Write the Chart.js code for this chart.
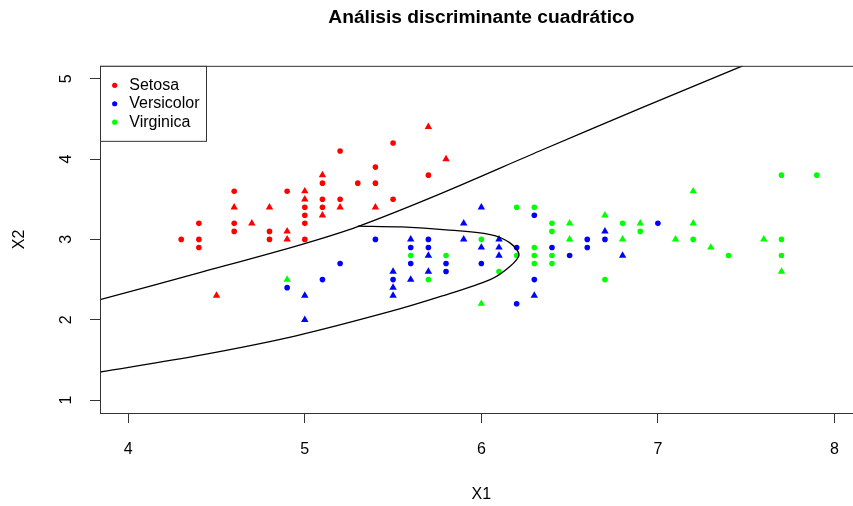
<!DOCTYPE html>
<html>
<head>
<meta charset="utf-8">
<script src="https://cdn.jsdelivr.net/npm/chart.js@4"></script>
<style>
html, body { margin: 0; background: #fff; overflow: hidden; }
canvas { display: block; }
</style>
</head>
<body>
<canvas id="chartCanvas" width="867" height="506"></canvas>
<script>

const xTicks = [4, 5, 6, 7, 8];
const yTicks = [1, 2, 3, 4, 5];
const xMin = 3.84, xMax = 8.16;
const yMin = 0.84, yMax = 5.16;

const classNames = ["Setosa", "Versicolor", "Virginica"];
const classColors = ["#FF0000", "#0000FF", "#00FF00"];

// circles
const setosaTrain = [[4.3,3.0],[4.4,3.2],[4.4,3.0],[4.4,2.9],[4.6,3.6],[4.6,3.2],[4.6,3.1],[4.8,3.1],[4.8,3.0],[4.9,3.6],[5.0,3.4],[5.0,3.3],[5.0,3.2],[5.0,3.0],[5.1,3.7],[5.1,3.5],[5.1,3.4],[5.2,4.1],[5.2,3.5],[5.3,3.7],[5.4,3.9],[5.4,3.7],[5.5,4.2],[5.5,3.5],[5.7,3.8]];
const versicolorTrain = [[4.9,2.4],[5.1,2.5],[5.2,2.7],[5.4,3.0],[5.5,2.5],[5.6,2.9],[5.6,2.7],[5.7,3.0],[5.7,2.9],[5.8,2.7],[5.8,2.6],[6.0,2.7],[6.2,2.9],[6.2,2.2],[6.3,3.3],[6.3,2.5],[6.4,2.9],[6.5,2.8],[6.6,3.0],[6.6,2.9],[6.7,3.0],[7.0,3.2]];
const virginicaTrain = [[5.6,2.8],[5.7,2.5],[5.8,2.8],[6.0,3.0],[6.1,2.6],[6.2,3.4],[6.2,2.8],[6.3,3.4],[6.3,2.9],[6.3,2.8],[6.3,2.7],[6.4,3.2],[6.4,3.1],[6.4,2.8],[6.4,2.7],[6.7,2.5],[6.8,3.2],[6.9,3.1],[7.2,3.0],[7.4,2.8],[7.7,3.8],[7.9,3.8],[7.7,3.0],[7.7,2.8]];

// triangles
const setosaTest = [[4.5,2.3],[4.6,3.4],[4.7,3.2],[4.8,3.4],[4.9,3.1],[4.9,3.0],[5.0,3.6],[5.0,3.5],[5.1,3.8],[5.1,3.3],[5.2,3.4],[5.4,3.4],[5.7,4.4],[5.8,4.0]];
const versicolorTest = [[5.0,2.3],[5.0,2.0],[5.5,2.6],[5.5,2.4],[5.5,2.3],[5.6,3.0],[5.6,2.5],[5.7,2.8],[5.7,2.6],[5.9,3.2],[5.9,3.0],[6.0,3.4],[6.0,2.9],[6.1,3.0],[6.1,2.9],[6.1,2.8],[6.3,2.3],[6.7,3.1],[6.8,2.8]];
const virginicaTest = [[4.9,2.5],[6.0,2.2],[6.5,3.2],[6.5,3.0],[6.7,3.3],[6.8,3.0],[6.9,3.2],[7.1,3.0],[7.2,3.6],[7.2,3.2],[7.3,2.9],[7.6,3.0],[7.7,2.6]];

// decision boundaries
const boundarySetosa = [[3.84,2.25],[4.41,2.59],[4.97,2.93],[5.30,3.16],[5.77,3.57],[6.33,4.10],[6.90,4.63],[7.48,5.16]];
const boundaryVersVirg = [[5.30,3.165],[5.55,3.155],[5.80,3.12],[6.05,3.06],[6.16,2.96],[6.213,2.81],[6.16,2.66],[6.05,2.50],[5.77,2.29],[5.48,2.10],[4.95,1.80],[4.41,1.56],[3.84,1.35]];

const fontFamily = "'Liberation Sans', Arial, Helvetica, sans-serif";

function toPoints(arr) {
    return arr.map(p => ({ x: p[0], y: p[1] }));
}

function pointSet(arr, color, shape) {
    return {
        data: toPoints(arr),
        pointStyle: shape,
        pointRadius: shape === "triangle" ? 4.3 : 2.8,
        pointBorderWidth: 0,
        backgroundColor: color,
        borderColor: color,
        showLine: false
    };
}

function lineSet(arr) {
    return {
        data: toPoints(arr),
        showLine: true,
        pointRadius: 0,
        borderColor: "#000",
        borderWidth: 1.3,
        tension: 0.3,
        fill: false
    };
}

const rAxes = {
    id: "rAxes",
    afterDraw(chart) {
        const c = chart.ctx;
        const a = chart.chartArea;
        const sx = chart.scales.x;
        const sy = chart.scales.y;
        c.save();

        c.strokeStyle = "#333";
        c.lineWidth = 1;
        c.strokeRect(a.left + 0.5, a.top + 0.5, a.right - a.left, a.bottom - a.top);

        c.fillStyle = "#000";
        c.font = "16px " + fontFamily;
        c.textAlign = "center";
        c.textBaseline = "middle";
        xTicks.forEach(v => {
            c.fillText(String(v), sx.getPixelForValue(v), a.bottom + 37);
        });
        yTicks.forEach(v => {
            c.save();
            c.translate(a.left - 33.5, sy.getPixelForValue(v));
            c.rotate(-Math.PI / 2);
            c.fillText(String(v), 0, 0);
            c.restore();
        });

        // legend
        const lx = a.left + 0.5, ly = a.top + 0.5;
        c.fillStyle = "#fff";
        c.fillRect(lx, ly, 106, 75);
        c.strokeStyle = "#333";
        c.strokeRect(lx, ly, 106, 75);
        c.textAlign = "left";
        classNames.forEach((name, i) => {
            const y = ly + 19 + i * 18.4;
            c.fillStyle = classColors[i];
            c.beginPath();
            c.arc(lx + 14.2, y, 2.6, 0, Math.PI * 2);
            c.fill();
            c.fillStyle = "#000";
            c.fillText(name, lx + 28.8, y);
        });
        c.restore();
    }
};

const ctx = document.getElementById("chartCanvas");

new Chart(ctx, {
    type: "scatter",
    data: {
        datasets: [
            lineSet(boundarySetosa),
            lineSet(boundaryVersVirg),
            pointSet(setosaTest, classColors[0], "triangle"),
            pointSet(versicolorTest, classColors[1], "triangle"),
            pointSet(virginicaTest, classColors[2], "triangle"),
            pointSet(setosaTrain, classColors[0], "circle"),
            pointSet(versicolorTrain, classColors[1], "circle"),
            pointSet(virginicaTrain, classColors[2], "circle")
        ]
    },
    options: {
        responsive: false,
        animation: false,
        layout: { padding: 0 },
        plugins: {
            legend: { display: false },
            tooltip: { enabled: false },
            title: {
                display: true,
                fullSize: false,
                text: "Análisis discriminante cuadrático",
                color: "#000",
                font: { family: fontFamily, size: 19.2, weight: "bold" },
                padding: { top: 6.5, bottom: 36.3 }
            }
        },
        scales: {
            x: {
                type: "linear",
                min: xMin,
                max: xMax,
                afterBuildTicks: axis => { axis.ticks = xTicks.map(v => ({ value: v })); },
                afterFit: axis => { axis.height = 93; },
                ticks: { display: false },
                grid: { display: true, drawOnChartArea: false, drawTicks: true, tickLength: 10, color: "#333" },
                border: { display: false },
                title: { display: true, text: "X1", color: "#000", font: { family: fontFamily, size: 16 }, padding: { top: 0, bottom: 1.4 } }
            },
            y: {
                type: "linear",
                min: yMin,
                max: yMax,
                afterBuildTicks: axis => { axis.ticks = yTicks.map(v => ({ value: v })); },
                afterFit: axis => { axis.width = 100; },
                ticks: { display: false },
                grid: { display: true, drawOnChartArea: false, drawTicks: true, tickLength: 10, color: "#333" },
                border: { display: false },
                title: { display: true, text: "X2", color: "#000", font: { family: fontFamily, size: 16 }, padding: { top: 10.4, bottom: 0 } }
            }
        }
    },
    plugins: [rAxes]
});
</script>
</body>
</html>
